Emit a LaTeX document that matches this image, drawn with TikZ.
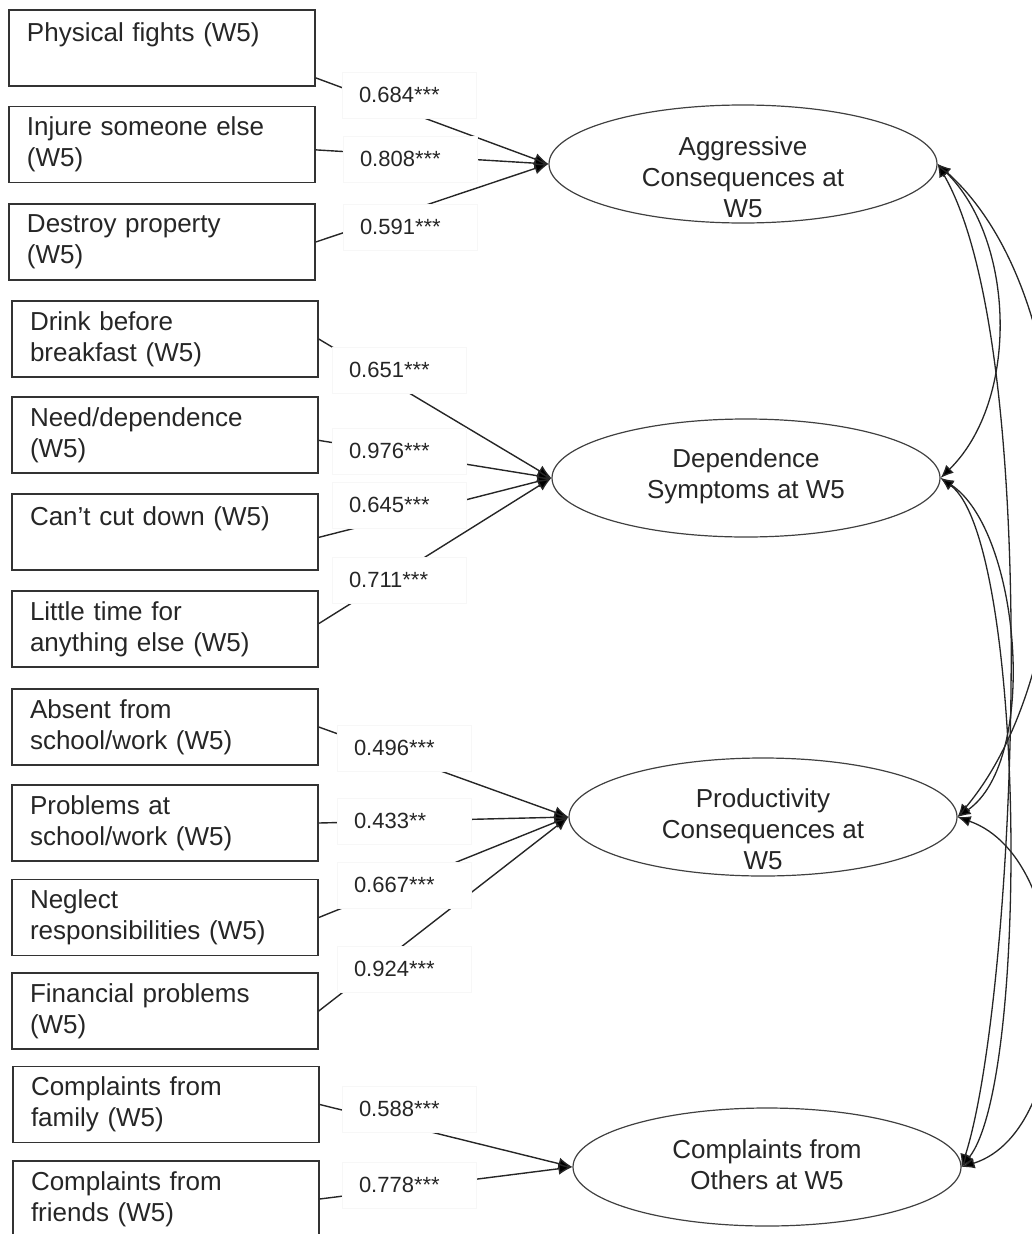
\documentclass[tikz,border=0pt]{standalone}
\usepackage{fontspec}
\setmainfont{Liberation Sans}
\usetikzlibrary{arrows.meta,shapes.geometric}

\begin{document}
\begin{tikzpicture}[x=1pt,y=-1pt,
	ind/.style={draw=black!80,line width=1.5pt,rectangle,text width=270pt,inner xsep=18pt,inner ysep=0pt,minimum height=76pt,align=left,font=\fontsize{26}{31}\selectfont,text=black!85},
	latent/.style={draw=black!75,line width=1.2pt,ellipse,minimum width=388pt,minimum height=118pt,inner sep=0pt},
	ltext/.style={align=center,font=\fontsize{26}{31}\selectfont,text=black!85},
	coef/.style={fill=white,draw=black!3,text width=100pt,inner xsep=17pt,inner ysep=0pt,minimum height=46pt,align=left,font=\fontsize{22}{26}\selectfont,text=black!85},
	load/.style={draw=black!85,line width=1.4pt,-{Latex[length=14pt,width=12pt,fill=black]}},
	cov/.style={draw=black!85,line width=1.3pt,{Latex[length=13pt,width=11pt,fill=black]}-{Latex[length=13pt,width=11pt,fill=black]}}]
	\clip (0,0) rectangle (1032,1234);
	\node[ind] (fights) at (162,48) {Physical fights (W5)\\~};
	\node[ind] (injure) at (162,144.5) {Injure someone else\\(W5)};
	\node[ind] (destroy) at (162,242) {Destroy property\\(W5)};
	\node[ind] (drink) at (165,339) {Drink before\\breakfast (W5)};
	\node[ind] (need) at (165,435) {Need/dependence\\(W5)};
	\node[ind] (cutdown) at (165,532) {Can't cut down (W5)\\~};
	\node[ind] (littletime) at (165,629) {Little time for\\anything else (W5)};
	\node[ind] (absent) at (165,727) {Absent from\\school/work (W5)};
	\node[ind] (problems) at (165,823) {Problems at\\school/work (W5)};
	\node[ind] (neglect) at (165,917.5) {Neglect\\responsibilities (W5)};
	\node[ind] (financial) at (165,1011) {Financial problems\\(W5)};
	\node[ind] (family) at (166,1104.5) {Complaints from\\family (W5)};
	\node[ind] (friends) at (166,1199) {Complaints from\\friends (W5)};
	\node[latent] (aggr) at (743,164) {};
	\node[latent] (dep) at (746,478) {};
	\node[latent] (prod) at (763,817) {};
	\node[latent] (compl) at (767,1167) {};
	\node[ltext] (aggrtext) at (743,177) {Aggressive\\Consequences at\\W5};
	\node[ltext] (deptext) at (746,476) {Dependence\\Symptoms at W5};
	\node[ltext] (prodtext) at (763,829) {Productivity\\Consequences at\\W5};
	\node[ltext] (compltext) at (767,1165) {Complaints from\\Others at W5};
	\draw[load] (fights.-11) -- (aggr.west);
	\draw[load] (injure.-2) -- (aggr.west);
	\draw[load] (destroy.east) -- (aggr.west);
	\draw[load] (drink.east) -- (dep.west);
	\draw[load] (need.-2) -- (dep.west);
	\draw[load] (cutdown.-2) -- (dep.west);
	\draw[load] (littletime.2) -- (dep.west);
	\draw[load] (absent.east) -- (prod.west);
	\draw[load] (problems.east) -- (prod.west);
	\draw[load] (neglect.east) -- (prod.west);
	\draw[load] (financial.east) -- (prod.west);
	\draw[load] (family.east) -- (compl.west);
	\draw[load] (friends.east) -- (compl.west);
	\node[coef] (c1) at (409,95) {0.684***};
	\node[coef] (c2) at (410,159) {0.808***};
	\node[coef] (c3) at (410,227) {0.591***};
	\node[coef] (c4) at (399,370) {0.651***};
	\node[coef] (c5) at (399,451) {0.976***};
	\node[coef] (c6) at (399,505) {0.645***};
	\node[coef] (c7) at (399,580) {0.711***};
	\node[coef] (c8) at (404,748) {0.496***};
	\node[coef] (c9) at (404,821) {0.433**};
	\node[coef] (c10) at (404,885) {0.667***};
	\node[coef] (c11) at (404,969) {0.924***};
	\node[coef] (c12) at (409,1109) {0.588***};
	\node[coef] (c13) at (409,1185) {0.778***};
	\draw[cov] (aggr.east) .. controls (1015,240) and (1020,400) .. (dep.east);
	\draw[cov] (aggr.east) .. controls (1090,300) and (1090,660) .. (prod.east);
	\draw[cov] (aggr.east) .. controls (1045,350) and (1015,1000) .. (compl.east);
	\draw[cov] (dep.east) .. controls (1020,530) and (1040,760) .. (prod.east);
	\draw[cov] (dep.east) .. controls (1025,540) and (1030,1080) .. (compl.east);
	\draw[cov] (prod.east) .. controls (1080,860) and (1080,1130) .. (compl.east);
\end{tikzpicture}
\end{document}
